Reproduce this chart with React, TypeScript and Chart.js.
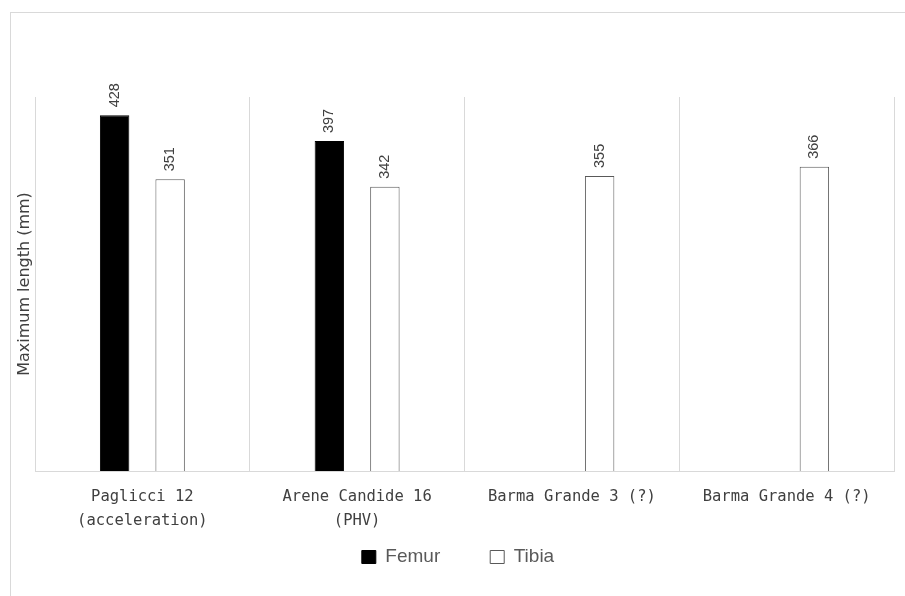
import React, { useEffect, useRef } from "react";
import { Chart, registerables } from "chart.js";

Chart.register(...registerables);

const categories: (string | string[])[] = [
  ["Paglicci 12", "(acceleration)"],
  ["Arene Candide 16", "(PHV)"],
  "Barma Grande 3 (?)",
  "Barma Grande 4 (?)",
];
const femurValues: (number | null)[] = [428, 397, null, null];
const tibiaValues: (number | null)[] = [351, 342, 355, 366];
const seriesNames = ["Femur", "Tibia"];
const yAxisTitle = "Maximum length (mm)";
const yMin = 0;
const yMax = 450;

const valueLabels = {
  id: "valueLabels",
  afterDatasetsDraw(chart: any) {
    const ctx = chart.ctx;
    chart.data.datasets.forEach((ds: any, i: number) => {
      const meta = chart.getDatasetMeta(i);
      meta.data.forEach((el: any, j: number) => {
        const v = ds.data[j];
        if (v == null) return;
        ctx.save();
        ctx.translate(el.x, el.y - 8);
        ctx.rotate(-Math.PI / 2);
        ctx.font = "14.5px 'Liberation Sans', Arial, sans-serif";
        ctx.fillStyle = "#404040";
        ctx.textAlign = "left";
        ctx.textBaseline = "middle";
        ctx.fillText(String(v), 0, 0);
        ctx.restore();
      });
    });
  },
};

// let the x tick labels extend below the (deliberately short) x-axis box
const unclipXLabels = {
  id: "unclipXLabels",
  afterLayout(chart: any) {
    const x = chart.scales.x;
    if (x) x.bottom = chart.height;
  },
};

export default function App() {
  const canvasRef = useRef<HTMLCanvasElement | null>(null);

  useEffect(() => {
    const canvas = canvasRef.current;
    if (!canvas) return;
    const chart = new Chart(canvas, {
      type: "bar",
      data: {
        labels: categories,
        datasets: [
          {
            label: seriesNames[0],
            data: femurValues,
            backgroundColor: "#000000",
            borderColor: "#000000",
            borderWidth: 1,
            categoryPercentage: 0.517,
            barPercentage: 0.53,
          },
          {
            label: seriesNames[1],
            data: tibiaValues,
            backgroundColor: "#ffffff",
            borderColor: "#595959",
            borderWidth: 1,
            categoryPercentage: 0.517,
            barPercentage: 0.53,
          },
        ],
      },
      options: {
        animation: false,
        responsive: false,
        maintainAspectRatio: false,
        layout: { padding: { top: 84, right: 0, bottom: 19.5, left: 0 } },
        plugins: {
          tooltip: { enabled: false },
          legend: {
            position: "bottom",
            labels: {
              boxWidth: 14,
              boxHeight: 13,
              padding: 50,
              color: "#595959",
              font: { family: "'Liberation Sans', Arial, sans-serif", size: 19 },
            },
          },
        },
        scales: {
          x: {
            grid: { display: true, color: "#d9d9d9", lineWidth: 1, drawTicks: false, offset: true },
            border: { display: true, color: "#d9d9d9", width: 1 },
            ticks: {
              color: "#404040",
              padding: 13.5,
              maxRotation: 0,
              autoSkip: false,
              font: { family: "'DejaVu Sans Mono', monospace", size: 15.5, lineHeight: 24 / 15.5 },
            },
            afterFit: (scale: any) => {
              scale.height = 26.5;
            },
          },
          y: {
            min: yMin,
            max: yMax,
            grid: { display: false },
            border: { display: false },
            ticks: { display: false },
            title: {
              display: true,
              text: yAxisTitle,
              color: "#404040",
              padding: { top: 4, bottom: 4 },
              font: { family: "'DejaVu Sans', sans-serif", size: 16, lineHeight: 1.2 },
            },
            afterFit: (scale: any) => {
              scale.width = 24;
            },
          },
          yR: {
            position: "right",
            display: true,
            min: yMin,
            max: yMax,
            grid: { display: false },
            border: { display: false },
            ticks: { display: false },
            afterFit: (scale: any) => {
              scale.width = 11;
            },
          },
        },
      },
      plugins: [valueLabels, unclipXLabels],
    } as any);
    return () => chart.destroy();
  }, []);

  return (
    <div style={{ position: "fixed", left: 0, top: 0, width: 905, height: 596, overflow: "hidden", background: "#ffffff" }}>
      <div
        style={{
          position: "absolute",
          left: 10,
          top: 12,
          width: 910,
          height: 600,
          borderLeft: "1px solid #d9d9d9",
          borderTop: "1px solid #d9d9d9",
        }}
      >
        <canvas ref={canvasRef} width={894} height={583} style={{ display: "block", width: 894, height: 583 }} />
      </div>
    </div>
  );
}
